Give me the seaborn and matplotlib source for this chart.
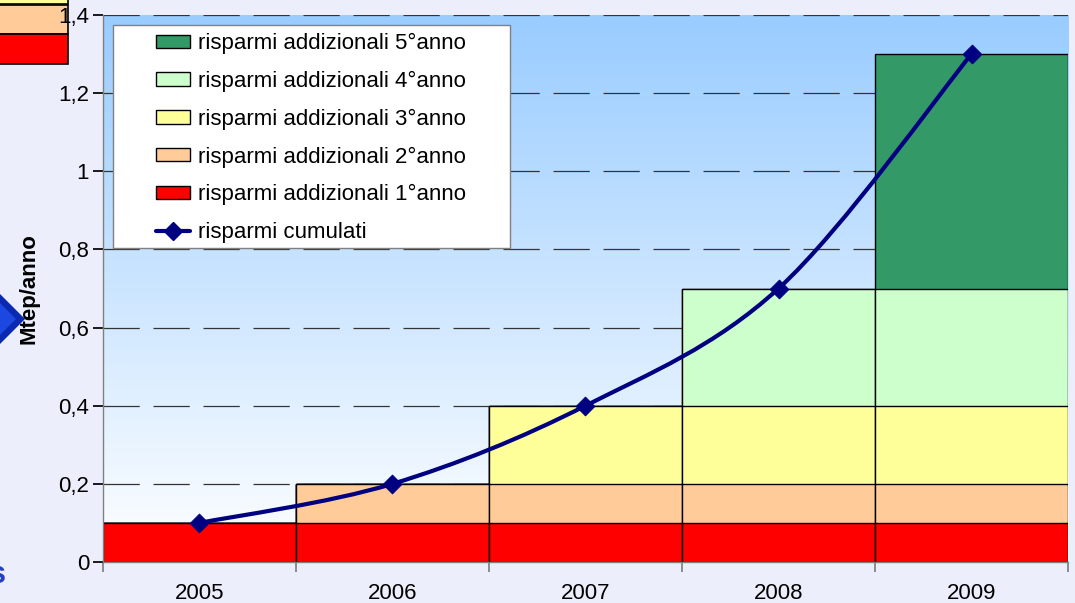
import numpy as np
import pandas as pd
import matplotlib
matplotlib.use("Agg")
import matplotlib.pyplot as plt
import seaborn as sns
from matplotlib.patches import Rectangle, Patch, Polygon, PathPatch
from matplotlib.lines import Line2D
from matplotlib.path import Path
from matplotlib.colors import LinearSegmentedColormap

# --- data ---
years = ['2005', '2006', '2007', '2008', '2009']
anno1 = [0.1, 0.1, 0.1, 0.1, 0.1]
anno2 = [0.0, 0.1, 0.1, 0.1, 0.1]
anno3 = [0.0, 0.0, 0.2, 0.2, 0.2]
anno4 = [0.0, 0.0, 0.0, 0.3, 0.3]
anno5 = [0.0, 0.0, 0.0, 0.0, 0.6]
cumulati = [0.1, 0.2, 0.4, 0.7, 1.3]

layer_labels = ['risparmi addizionali 1°anno', 'risparmi addizionali 2°anno',
                'risparmi addizionali 3°anno', 'risparmi addizionali 4°anno',
                'risparmi addizionali 5°anno']
line_label = 'risparmi cumulati'
layer_colors = ['#FF0000', '#FFCC99', '#FFFF99', '#CCFFCC', '#339966']
y_ticks = [0, 0.2, 0.4, 0.6, 0.8, 1.0, 1.2, 1.4]
y_tick_labels = ['0', '0,2', '0,4', '0,6', '0,8', '1', '1,2', '1,4']

df = pd.DataFrame({'anno': years, 'a1': anno1, 'a2': anno2, 'a3': anno3,
                   'a4': anno4, 'a5': anno5})
layer_cols = ['a1', 'a2', 'a3', 'a4', 'a5']
tops = df[layer_cols].cumsum(axis=1)

sns.set_theme(style='white')
plt.rcParams['font.family'] = ['Liberation Sans', 'DejaVu Sans']
plt.rcParams['text.color'] = 'black'
plt.rcParams['axes.labelcolor'] = 'black'
plt.rcParams['xtick.color'] = 'black'
plt.rcParams['ytick.color'] = 'black'

fig = plt.figure(figsize=(10.75, 6.03), dpi=100, facecolor='#ECEFFB')

# decorations of the slide around the chart
deco = fig.add_axes([0, 0, 1, 1], zorder=-1)
deco.set_xlim(0, 1075)
deco.set_ylim(603, 0)
deco.axis('off')
deco.add_patch(Rectangle((-2, -10), 70, 14, facecolor='#FFFF99', edgecolor='black', lw=1.2))
deco.add_patch(Rectangle((-2, 4.5), 70, 29.5, facecolor='#FFCC99', edgecolor='black', lw=1.2))
deco.add_patch(Rectangle((-2, 34), 70, 30, facecolor='#FF0000', edgecolor='black', lw=1.2))
deco.add_patch(Polygon([(-40, 319), (-8, 286), (25, 319), (-8, 352)], facecolor='#0A28B0', edgecolor='none'))
deco.add_patch(Polygon([(-30, 319), (-6, 297), (16, 319), (-6, 341)], facecolor='#1A48E0', edgecolor='none'))
deco.text(6, 575, 's', ha='right', va='center', fontsize=22, fontweight='bold', color='#2240C0')

ax = fig.add_axes([0.0958, 0.068, 0.8977, 0.9071])
ax.set_facecolor('none')

# stacked bars: draw cumulative tops from highest layer down
for col, c in zip(layer_cols[::-1], layer_colors[::-1]):
    sns.barplot(x=df['anno'], y=tops[col], color=c, saturation=1, width=1,
                edgecolor='black', linewidth=1, ax=ax, zorder=2)

# gradient plot background
cmap = LinearSegmentedColormap.from_list('bg', ['#FFFFFF', '#99CCFF'])
ax.imshow(np.linspace(0, 1, 256).reshape(-1, 1), cmap=cmap, origin='lower',
          extent=[-0.5, 4.5, 0, 1.4], aspect='auto', zorder=0)

# smoothed cumulative line (bezier through the points)
xs = np.arange(len(cumulati), dtype=float)
ys = np.array(cumulati)
n = len(xs)
verts = [(xs[0], ys[0])]
codes = [Path.MOVETO]
for i in range(n - 1):
    a = max(i - 1, 0)
    d = min(i + 2, n - 1)
    c1 = (xs[i] + (xs[i + 1] - xs[a]) / 6, ys[i] + (ys[i + 1] - ys[a]) / 6)
    c2 = (xs[i + 1] - (xs[d] - xs[i]) / 6, ys[i + 1] - (ys[d] - ys[i]) / 6)
    verts += [c1, c2, (xs[i + 1], ys[i + 1])]
    codes += [Path.CURVE4] * 3
ax.add_patch(PathPatch(Path(verts, codes), facecolor='none', edgecolor='#000080',
                       lw=3, zorder=5, capstyle='round', joinstyle='round'))
sns.scatterplot(x=xs, y=ys, marker='D', s=90, color='#000080', edgecolor='#000080',
                zorder=6, ax=ax, legend=False, clip_on=False)

ax.set_xlim(-0.5, 4.5)
ax.set_ylim(0, 1.4)
ax.set_xlabel('')

ax.set_axisbelow(True)
ax.yaxis.grid(True, color='#333333', linestyle=(0, (29, 11)), linewidth=0.9)
ax.xaxis.grid(False)

for s in ['top', 'right']:
    ax.spines[s].set_visible(False)
for s in ['left', 'bottom']:
    ax.spines[s].set_color('#808080')
    ax.spines[s].set_linewidth(1)

ax.set_xticks([-0.5, 0.5, 1.5, 2.5, 3.5, 4.5], [''] * 6)
ax.set_xticks(range(len(years)), years, minor=True)
ax.tick_params(axis='x', which='major', length=7, color='#808080', direction='out', bottom=True)
ax.tick_params(axis='x', which='minor', length=0, pad=15, labelsize=16, bottom=True,
               labelcolor='black')
ax.set_yticks(y_ticks, y_tick_labels)
ax.tick_params(axis='y', length=7, pad=3, labelsize=16, color='black', direction='out',
               left=True, labelcolor='black')

ax.set_ylabel('Mtep/anno', fontsize=16, fontweight='bold', color='black')
ax.yaxis.set_label_coords(-0.0663, 0.5)

# legend with its own frame
ax.add_patch(Rectangle((0.010, 0.574), 0.412, 0.408, transform=ax.transAxes,
                       facecolor='white', edgecolor='#808080', lw=1, zorder=7))
handles = [Patch(facecolor=c, edgecolor='black', linewidth=1)
           for c in layer_colors[::-1]]
handles.append(Line2D([], [], color='#000080', lw=3, marker='D', markersize=9))
labels = layer_labels[::-1] + [line_label]
leg = ax.legend(handles, labels, loc='center', bbox_to_anchor=(0.2155, 0.775),
                frameon=False, fontsize=16, labelspacing=0.75, handlelength=1.5,
                handleheight=0.55, handletextpad=0.36, borderpad=0, labelcolor='black')
leg.set_zorder(8)

fig.savefig('out.png', dpi=100, facecolor=fig.get_facecolor())
